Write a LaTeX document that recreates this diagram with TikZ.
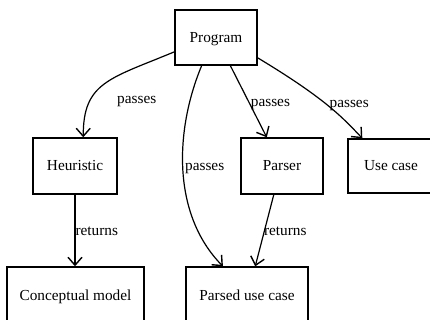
\documentclass[tikz,border=0pt]{standalone}
\usepackage{fontspec}
\setmainfont{Liberation Serif}
\usetikzlibrary{arrows.meta}
\begin{document}
\begin{tikzpicture}[x=1pt,y=-1pt,
  box/.style={draw, line width=1.4pt, inner sep=0pt, text height=11.5pt, text depth=1.5pt,
    font=\fontsize{15.3}{18}\selectfont},
  edge/.style={line width=1.2pt, -{Straight Barb[length=8pt,width=14pt,line width=1.4pt]}},
  lbl/.style={inner sep=0pt, anchor=base west, font=\fontsize{15.3}{18}\selectfont}]
\useasboundingbox (0,0) rectangle (430,320);
\node[box, minimum width=82pt, minimum height=55pt] (prog) at (216,37.5) {Program};
\node[box, minimum width=84pt, minimum height=56pt] (heur) at (75,166) {Heuristic};
\node[box, minimum width=82pt, minimum height=56pt] (parser) at (282,166) {Parser};
\node[box, minimum width=86pt, minimum height=54pt] (use) at (391,166) {Use case};
\node[box, minimum width=137pt, minimum height=56pt] (concept) at (75.5,295) {Conceptual model};
\node[box, minimum width=122pt, minimum height=56pt] (parsed) at (247,295) {Parsed use case};
% edges
\draw[edge] (prog.199.5) .. controls +(-65,27) and +(0,-55) .. (heur.74)
  node[lbl, pos=0.6, xshift=20pt, yshift=-12pt] {passes};
\draw[edge] (prog.243) .. controls +(-27,65) and +(-51,-52) .. (parsed.130.6)
  node[lbl, pos=0.5, xshift=1.5pt, yshift=0pt] {passes};
\draw[edge] (prog.297) -- node[lbl, pos=0.52, xshift=1pt, yshift=-4pt] {passes} (parser.118);
\draw[edge] (prog.334.6) .. controls +(68,41) and +(-20,-21) .. (use.136)
  node[lbl, pos=0.5, xshift=1pt, yshift=-2pt] {passes};
\draw[edge] (heur.south) -- node[lbl, pos=0.5, yshift=-5pt] {returns} (heur.south |- concept.north);
\draw[edge] (parser.254) -- node[lbl, pos=0.5, xshift=-1pt, yshift=-5pt] {returns} (parsed.74);
\end{tikzpicture}
\end{document}
